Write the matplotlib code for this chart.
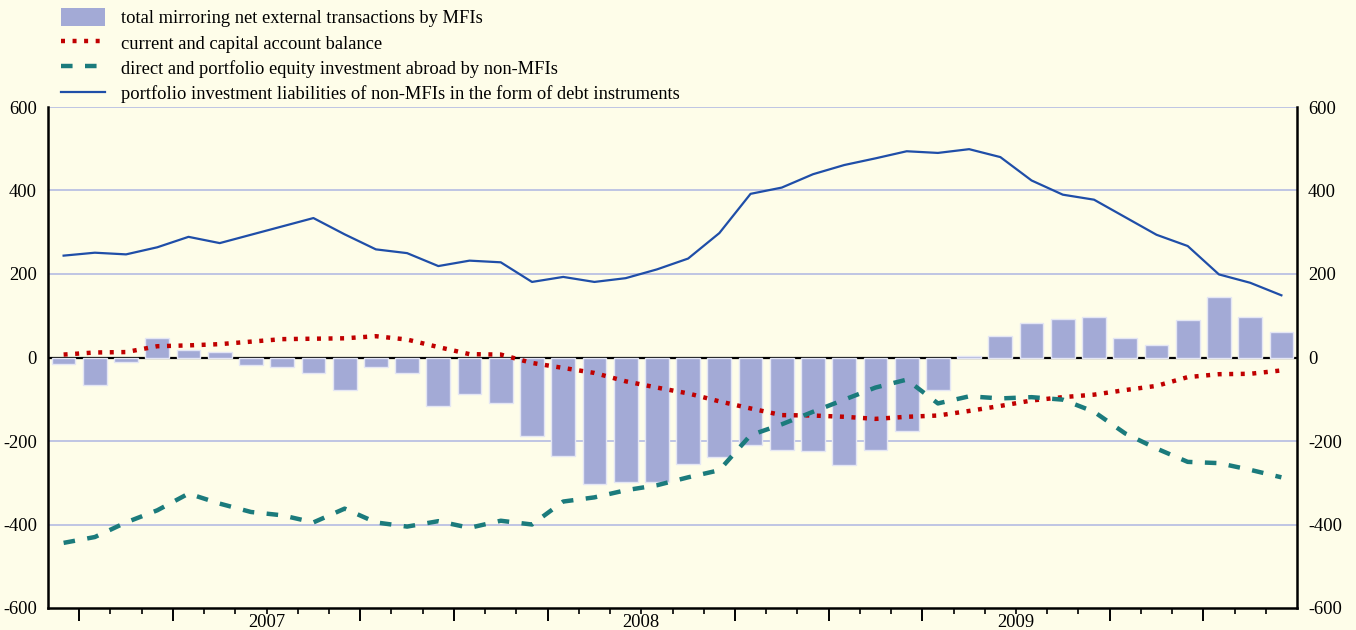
import matplotlib
matplotlib.use("Agg")
import matplotlib.pyplot as plt
import numpy as np
from matplotlib.patches import Patch
from matplotlib.lines import Line2D

# monthly data, Dec 2006 - Mar 2010 (EUR billions, 12-month flows)
mfi_total = [-16, -67, -11, 47, 18, 13, -18, -22, -38, -77, -22, -38, -115, -87,
             -109, -189, -235, -302, -298, -298, -254, -238, -210, -221, -224, -258,
             -221, -176, -77, 4, 51, 82, 93, 98, 46, 29, 90, 146, 97, 61]
current_capital = [7, 12, 13, 27, 29, 32, 38, 44, 45, 46, 51, 43, 25, 8,
                   7, -13, -25, -37, -57, -72, -86, -105, -122, -138, -139, -142,
                   -147, -142, -139, -128, -116, -103, -95, -89, -78, -68, -47, -40, -39, -31]
equity_abroad = [-444, -430, -395, -366, -326, -350, -370, -378, -395, -362, -395, -405, -392, -408,
                 -391, -400, -345, -335, -318, -306, -287, -270, -186, -160, -130, -101,
                 -72, -53, -110, -93, -98, -95, -101, -130, -182, -218, -250, -253, -269, -287]
debt_liabilities = [244, 251, 247, 264, 289, 274, 294, 314, 334, 295, 259, 250, 219, 232,
                    228, 181, 193, 181, 190, 211, 237, 298, 392, 407, 439, 461,
                    477, 494, 490, 499, 480, 424, 390, 378, 336, 294, 267, 199, 179, 149]
years = ["2007", "2008", "2009"]
year_centers = [6.5, 18.5, 30.5]

legend_labels = ["total mirroring net external transactions by MFIs",
                 "current and capital account balance",
                 "direct and portfolio equity investment abroad by non-MFIs",
                 "portfolio investment liabilities of non-MFIs in the form of debt instruments"]

bg = "#FEFDE9"
bar_col = "#A3AAD6"
red = "#C00000"
teal = "#1B7B7C"
blue = "#1F4EA8"
grid_col = "#B4BCE2"

plt.rcParams["font.family"] = ["Liberation Serif", "DejaVu Serif"]
plt.rcParams["axes.unicode_minus"] = False

fig = plt.figure(figsize=(13.56, 6.30), dpi=100, facecolor=bg)
ax = fig.add_axes([48 / 1356, 1 - 608 / 630, (1297 - 48) / 1356, (608 - 107) / 630])
ax.set_facecolor(bg)

x = np.arange(len(mfi_total))

for yv in [-400, -200, 200, 400, 600]:
    ax.axhline(yv, color=grid_col, lw=1.2, zorder=0)
ax.axhline(0, color="black", lw=1.6, zorder=1)

ax.bar(x, mfi_total, width=0.76, color=bar_col, edgecolor="#E4E6F4", lw=1.0, zorder=2)
ax.plot(x, current_capital, color=red, lw=3.2, linestyle=(0, (0.9, 1.7)),
        dash_capstyle="butt", zorder=3)
ax.plot(x, equity_abroad, color=teal, lw=3.2, linestyle=(0, (2.6, 2.8)),
        dash_capstyle="butt", zorder=3)
ax.plot(x, debt_liabilities, color=blue, lw=1.6, zorder=4)

ax.set_xlim(-0.5, 39.5)
ax.set_ylim(-600, 600)
ax.set_yticks(np.arange(-600, 601, 200))
ax.tick_params(axis="y", length=0, labelsize=13.3, labelleft=True, labelright=True, pad=8)

# month ticks, longer at quarter starts (July left short under the year label)
bounds = np.arange(0.5, 39.5, 1.0)
quarters = [b for i, b in enumerate(bounds) if i % 3 == 0 and i % 12 != 6]
ax.set_xticks(quarters)
ax.set_xticks(bounds, minor=True)
ax.set_xticklabels([])
ax.tick_params(axis="x", which="major", length=9, width=1.4, direction="out")
ax.tick_params(axis="x", which="minor", length=4, width=1.2, direction="out")
for yr, xc in zip(years, year_centers):
    ax.text(xc, -0.012, yr, transform=ax.get_xaxis_transform(), ha="center", va="top", fontsize=13.3)

ax.spines["top"].set_visible(False)
for s in ["left", "right", "bottom"]:
    ax.spines[s].set_linewidth(1.8)
    ax.spines[s].set_color("black")

handles = [Patch(facecolor=bar_col, edgecolor="none"),
           Line2D([], [], color=red, lw=3.2, linestyle=(0, (0.9, 1.7)), dash_capstyle="butt"),
           Line2D([], [], color=teal, lw=3.2, linestyle=(0, (2.6, 2.8)), dash_capstyle="butt"),
           Line2D([], [], color=blue, lw=1.6)]
fig.legend(handles, legend_labels, loc="upper left", bbox_to_anchor=(61 / 1356, 1 - 8 / 630),
           frameon=False, fontsize=13.3, handlelength=2.4, handleheight=1.15,
           handletextpad=0.85, labelspacing=0.32, borderpad=0, borderaxespad=0)

fig.savefig("out.png", dpi=100, facecolor=bg)
